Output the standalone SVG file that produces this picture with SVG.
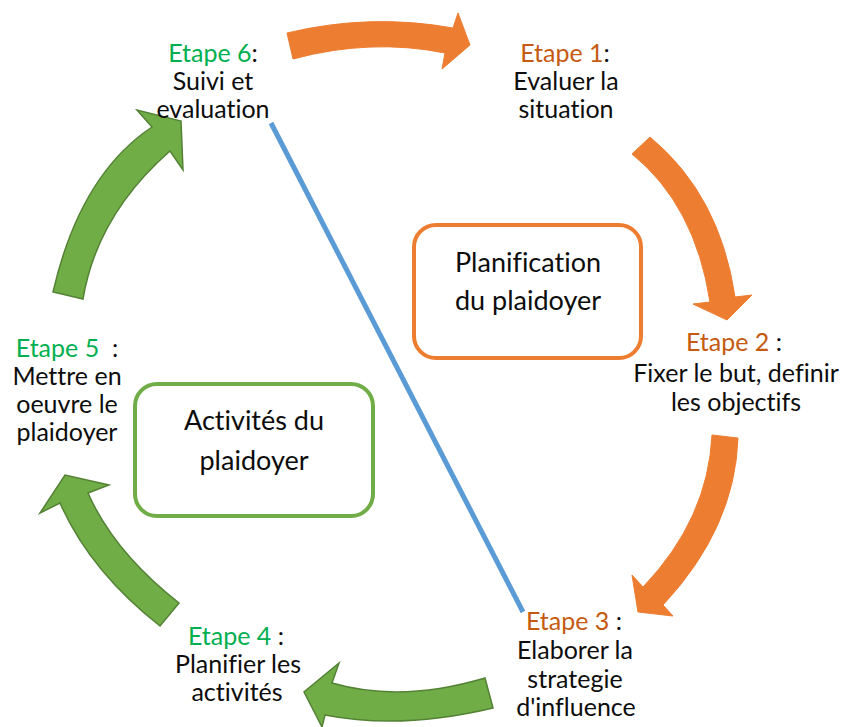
<svg xmlns="http://www.w3.org/2000/svg" width="841" height="727" viewBox="0 0 841 727">
<style>
text{font-family:Lato,"Liberation Sans",sans-serif;fill:#0d0d0d;text-anchor:middle;font-variant-ligatures:none}
.s{font-size:25px}
.b{font-size:27px}
.g{fill:#00B050}
.o{fill:#C55A11}
.ao{fill:#ED7D31;stroke:#ED7D31;stroke-width:1}
.ag{fill:#70AD47;stroke:#548235;stroke-width:1.5;stroke-linejoin:miter}
.box{fill:#fff;stroke-width:4}
</style>
<rect width="841" height="727" fill="#fff"/>
<g id="connectors">
<path class="ao" d="M287,33 Q370,13 453,28 L458,13 L470,45 L442,69 L445,53 Q371,38 293,59 Z"/>
<path class="ao" d="M650,137 Q720,195 735,297 L752,295 L727,320 L693,304 L710,302 Q695,205 632,154 Z"/>
<path class="ao" d="M712,435 L738,438 Q735,528 663,605 L673,616 L638,612 L632,575 L643,587 Q708,519 712,435 Z"/>
<path class="ag" d="M485,678 Q401,703 332,683 L339,663 L304,692 L322,727 L325,715 Q401,730 493,708 Z"/>
<path class="ag" d="M179,603 Q114,552 88,493 L109,485 L65,475 L40,513 L60,503 Q90,571 160,626 Z"/>
<path class="ag" d="M53,292 Q80,175 152,127 L137,110 L181,121 L183,170 L170,151 Q97,215 83,299 Z"/>
<line x1="271" y1="123" x2="523" y2="612" stroke="#5B9BD5" stroke-width="5"/>
</g>
<g id="planification">
<rect class="box" x="414" y="225" width="227" height="133" rx="22" stroke="#ED7D31"/>
<text class="b" x="528" y="272">Planification</text>
<text class="b" x="528" y="310">du plaidoyer</text>
</g>
<g id="activites">
<rect class="box" x="135" y="384" width="238" height="132" rx="22" stroke="#70AD47"/>
<text class="b" x="254" y="430">Activités du</text>
<text class="b" x="254" y="470">plaidoyer</text>
</g>
<g id="etape1">
<text class="s" x="565" y="62"><tspan class="o">Etape 1</tspan>:</text>
<text class="s" x="566" y="90">Evaluer la</text>
<text class="s" x="566" y="118">situation</text>
</g>
<g id="etape2">
<text class="s" x="734" y="351"><tspan class="o">Etape 2</tspan> :</text>
<text class="s" x="736" y="382">Fixer le but, definir</text>
<text class="s" x="736" y="411">les objectifs</text>
</g>
<g id="etape3">
<text class="s" x="574" y="630"><tspan class="o">Etape 3</tspan> :</text>
<text class="s" x="575" y="659">Elaborer la</text>
<text class="s" x="575" y="688">strategie</text>
<text class="s" x="576" y="716">d'influence</text>
</g>
<g id="etape4">
<text class="s" x="236" y="645"><tspan class="g">Etape 4</tspan> :</text>
<text class="s" x="238" y="673">Planifier les</text>
<text class="s" x="237" y="701">activités</text>
</g>
<g id="etape5">
<text class="s" x="67" y="357" xml:space="preserve"><tspan class="g">Etape 5</tspan>  :</text>
<text class="s" x="67" y="385">Mettre en</text>
<text class="s" x="67" y="413">oeuvre le</text>
<text class="s" x="67" y="441">plaidoyer</text>
</g>
<g id="etape6">
<text class="s" x="213" y="62"><tspan class="g">Etape 6</tspan>:</text>
<text class="s" x="213" y="90">Suivi et</text>
<text class="s" x="213" y="118">evaluation</text>
</g>
</svg>
